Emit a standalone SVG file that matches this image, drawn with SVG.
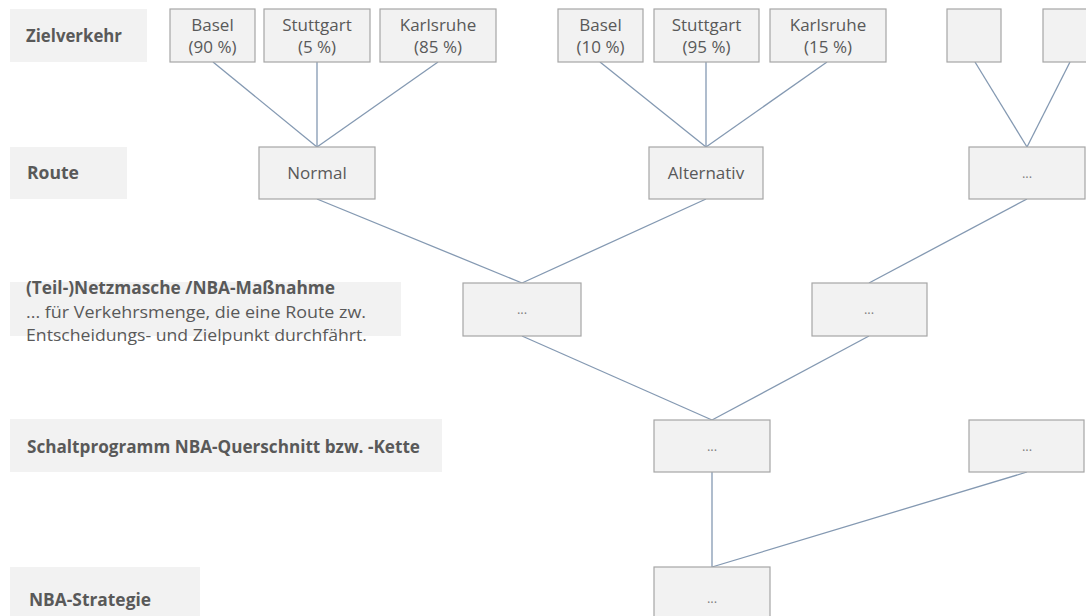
<svg xmlns="http://www.w3.org/2000/svg" width="1086" height="616" viewBox="0 0 1086 616">
<style>
.bg{fill:#ffffff}
.lbl{fill:#f2f2f2;stroke:none}
.lt{font-family:"Open Sans","Liberation Sans",sans-serif;font-weight:bold;font-size:17px;fill:#595959}
.dt{font-family:"Open Sans","Liberation Sans",sans-serif;font-size:16px;fill:#595959}
.box{fill:#f2f2f2;stroke:#a6a6a6;stroke-width:1.2}
.nt{font-family:"Open Sans","Liberation Sans",sans-serif;font-size:17px;fill:#595959;text-anchor:middle}
.el{font-family:"Open Sans","Liberation Sans",sans-serif;font-size:13px;fill:#7f7f7f;text-anchor:middle}
.cn line{stroke:#8499b2;stroke-width:1.3}
</style>
<rect class="bg" x="0" y="0" width="1086" height="616"/>

<g id="labels">
  <g id="label-zielverkehr">
    <rect class="lbl" x="10" y="9" width="137" height="53"/>
    <text class="lt" x="26" y="42" textLength="96" lengthAdjust="spacingAndGlyphs">Zielverkehr</text>
  </g>
  <g id="label-route">
    <rect class="lbl" x="10" y="147" width="117" height="52"/>
    <text class="lt" x="27" y="179" textLength="52" lengthAdjust="spacingAndGlyphs">Route</text>
  </g>
  <g id="label-netzmasche">
    <rect class="lbl" x="10" y="282" width="391" height="54"/>
    <text class="lt" x="26" y="294" textLength="309" lengthAdjust="spacingAndGlyphs">(Teil-)Netzmasche /NBA-Maßnahme</text>
    <text class="dt" x="26" y="318" textLength="340" lengthAdjust="spacingAndGlyphs">... für Verkehrsmenge, die eine Route zw.</text>
    <text class="dt" x="26" y="341" textLength="341" lengthAdjust="spacingAndGlyphs">Entscheidungs- und Zielpunkt durchfährt.</text>
  </g>
  <g id="label-schaltprogramm">
    <rect class="lbl" x="10" y="419" width="432" height="53"/>
    <text class="lt" x="27" y="453" textLength="393" lengthAdjust="spacingAndGlyphs">Schaltprogramm NBA-Querschnitt bzw. -Kette</text>
  </g>
  <g id="label-strategie">
    <rect class="lbl" x="10" y="567" width="190" height="49"/>
    <text class="lt" x="29" y="606" textLength="122" lengthAdjust="spacingAndGlyphs">NBA-Strategie</text>
  </g>
</g>

<g id="connectors" class="cn">
  <line x1="213" y1="62" x2="317" y2="147"/>
  <line x1="317" y1="62" x2="317" y2="147"/>
  <line x1="438" y1="62" x2="317" y2="147"/>
  <line x1="600" y1="62" x2="706" y2="147"/>
  <line x1="706" y1="62" x2="706" y2="147"/>
  <line x1="827" y1="62" x2="706" y2="147"/>
  <line x1="975" y1="62" x2="1027" y2="147"/>
  <line x1="1070" y1="62" x2="1027" y2="147"/>
  <line x1="317" y1="199" x2="522" y2="283"/>
  <line x1="706" y1="199" x2="522" y2="283"/>
  <line x1="1027" y1="199" x2="869" y2="283"/>
  <line x1="522" y1="336" x2="712" y2="420"/>
  <line x1="869" y1="336" x2="712" y2="420"/>
  <line x1="712" y1="472" x2="712" y2="567"/>
  <line x1="1027" y1="472" x2="712" y2="567"/>
</g>

<g id="ziel-basel-1">
  <rect class="box" x="170" y="9" width="85" height="53"/>
  <text class="nt" x="212.5" y="31">Basel</text>
  <text class="nt" x="212.5" y="53">(90 %)</text>
</g>
<g id="ziel-stuttgart-1">
  <rect class="box" x="264" y="9" width="106" height="53"/>
  <text class="nt" x="317" y="31">Stuttgart</text>
  <text class="nt" x="317" y="53">(5 %)</text>
</g>
<g id="ziel-karlsruhe-1">
  <rect class="box" x="380" y="9" width="116" height="53"/>
  <text class="nt" x="438" y="31">Karlsruhe</text>
  <text class="nt" x="438" y="53">(85 %)</text>
</g>
<g id="ziel-basel-2">
  <rect class="box" x="558" y="9" width="85" height="53"/>
  <text class="nt" x="600.5" y="31">Basel</text>
  <text class="nt" x="600.5" y="53">(10 %)</text>
</g>
<g id="ziel-stuttgart-2">
  <rect class="box" x="654" y="9" width="105" height="53"/>
  <text class="nt" x="706.5" y="31">Stuttgart</text>
  <text class="nt" x="706.5" y="53">(95 %)</text>
</g>
<g id="ziel-karlsruhe-2">
  <rect class="box" x="770" y="9" width="116" height="53"/>
  <text class="nt" x="828" y="31">Karlsruhe</text>
  <text class="nt" x="828" y="53">(15 %)</text>
</g>
<g id="ziel-empty-1">
  <rect class="box" x="947" y="9" width="54" height="53"/>
</g>
<g id="ziel-empty-2">
  <rect class="box" x="1043" y="9" width="54" height="53"/>
</g>

<g id="route-normal">
  <rect class="box" x="259" y="147" width="116" height="52"/>
  <text class="nt" x="317" y="179">Normal</text>
</g>
<g id="route-alternativ">
  <rect class="box" x="649" y="147" width="114" height="52"/>
  <text class="nt" x="706" y="179">Alternativ</text>
</g>
<g id="route-more">
  <rect class="box" x="969" y="147" width="116" height="52"/>
  <text class="el" x="1027" y="178">...</text>
</g>

<g id="netz-1">
  <rect class="box" x="463" y="283" width="118" height="53"/>
  <text class="el" x="522" y="314">...</text>
</g>
<g id="netz-2">
  <rect class="box" x="812" y="283" width="115" height="53"/>
  <text class="el" x="869" y="314">...</text>
</g>

<g id="schalt-1">
  <rect class="box" x="654" y="420" width="116" height="52"/>
  <text class="el" x="712" y="451">...</text>
</g>
<g id="schalt-2">
  <rect class="box" x="969" y="420" width="115" height="52"/>
  <text class="el" x="1027" y="451">...</text>
</g>

<g id="strategie">
  <rect class="box" x="654" y="567" width="116" height="60"/>
  <text class="el" x="712" y="603">...</text>
</g>
</svg>
